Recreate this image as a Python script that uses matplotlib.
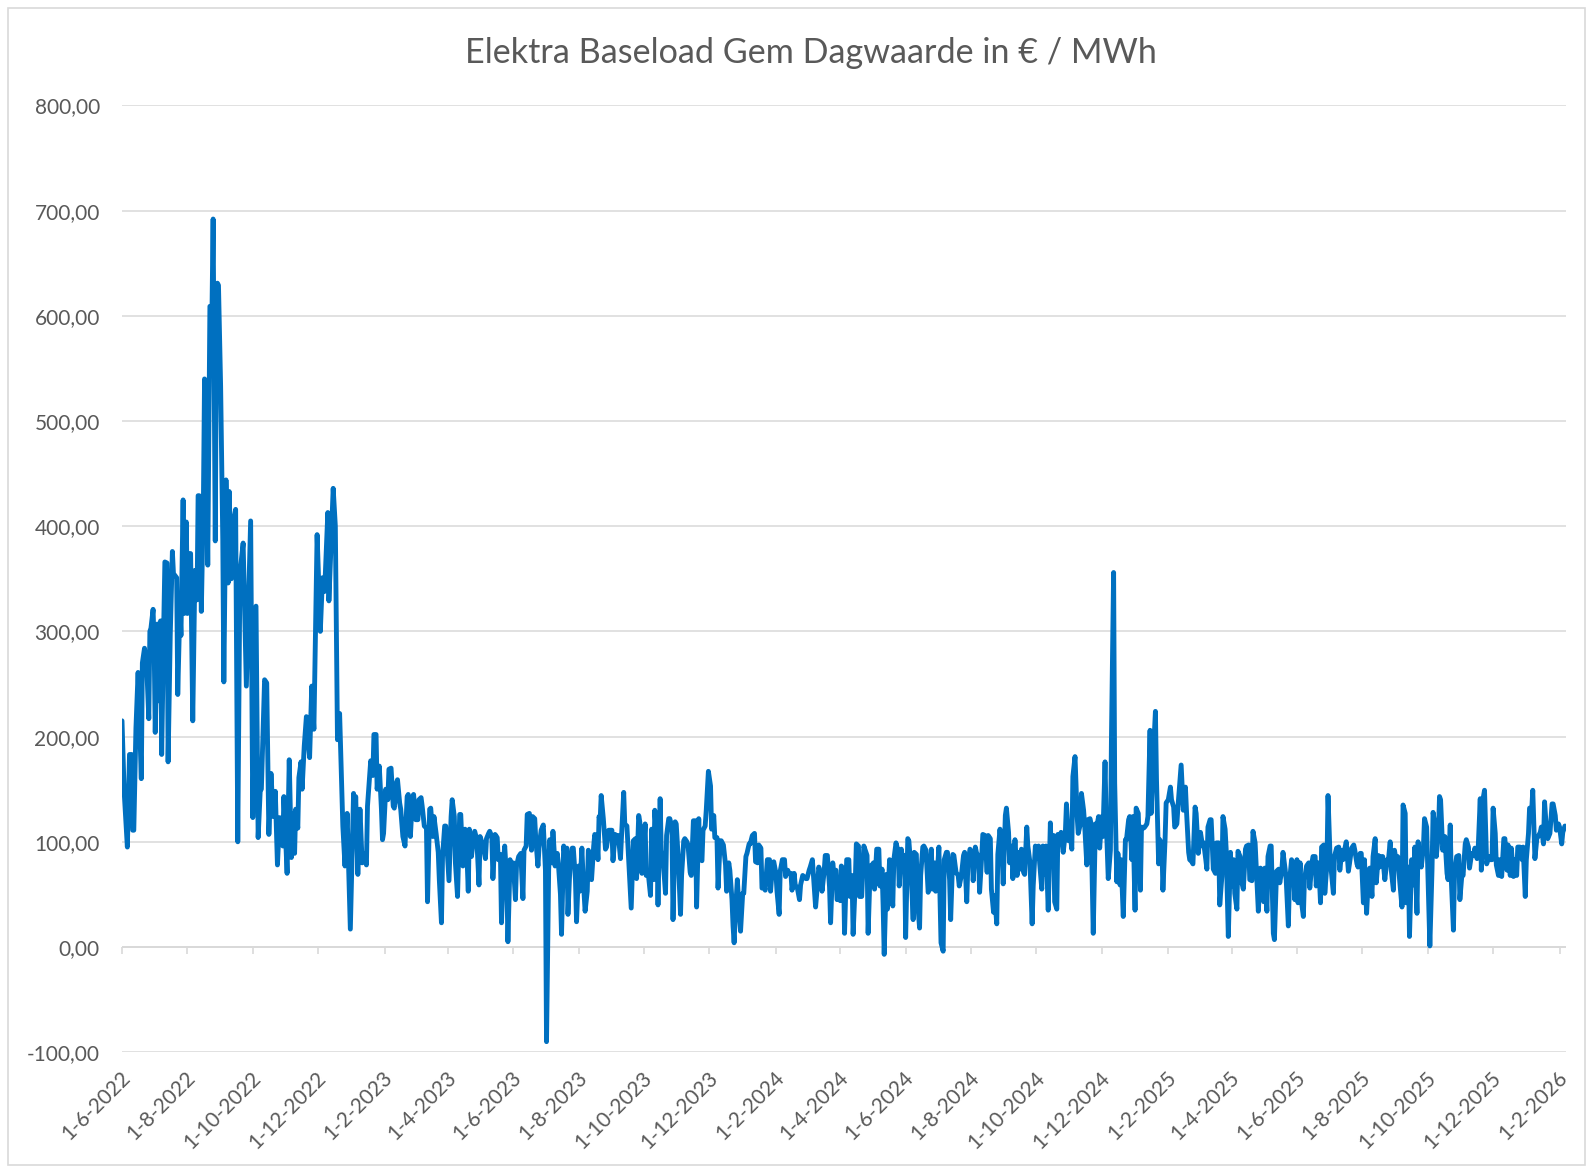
import matplotlib
matplotlib.use('Agg')
import matplotlib.pyplot as plt
import matplotlib.dates as mdates
import pandas as pd
from matplotlib.transforms import ScaledTranslation
from matplotlib.patches import Rectangle

# ---------------- data ----------------
start_date = '2022-06-01'
end_date = '2026-02-07'
title_text = 'Elektra Baseload Gem Dagwaarde in € / MWh'

day_offsets = [
    0, 2, 5, 7, 9, 10, 11, 13, 15, 18, 19, 21, 23, 25, 26, 27, 29, 30, 31, 33, 34, 36, 37, 39, 40, 42, 43, 45, 47, 48,
    51, 52, 54, 55, 57, 58, 60, 61, 63, 64, 66, 68, 70, 71, 72, 74, 76, 77, 79, 80, 82, 84, 85, 87, 88, 89, 90, 92, 94, 95,
    97, 99, 100, 102, 104, 106, 108,
    110, 113, 116, 120, 122, 125, 127, 129, 130, 133, 135, 137, 139, 141, 143, 145, 147, 150, 151, 154, 156, 158, 159, 161,
    162, 164, 165, 167, 168, 170, 172, 175, 177, 179, 182, 185, 187, 189, 192, 193, 196, 197, 199, 201, 203, 206, 208, 210,
    213, 216, 217,
    218, 220, 222, 224, 226, 228, 229, 232, 234, 235, 237, 238, 240, 242, 243, 244, 246, 248, 249, 251, 253, 254, 256, 257,
    259, 260, 262, 264, 266, 267, 269, 271, 272, 274, 276, 277, 279, 280, 282, 284, 285, 287, 288, 290, 291, 293, 295, 296,
    298, 299, 301, 302, 304, 305, 307, 308, 310, 311, 313, 315, 316, 318, 320, 321, 323, 324, 326, 328, 329, 331, 333,
    334, 337, 339, 340, 342, 343, 345, 346, 348, 350, 351, 353, 354, 356, 357, 359, 360, 362, 364, 365, 367, 368, 370, 372,
    374, 375, 377, 378, 380, 382, 383, 385, 386, 388, 389, 391, 393, 395, 396, 398, 399, 401, 402, 404, 406, 407, 409, 410,
    412, 413, 415, 416, 418, 420, 421, 423, 424, 426, 427, 429, 430, 432, 434, 435, 437, 438, 440, 441, 443, 444, 445,
    446, 447, 449, 451, 452, 454, 455, 457, 458, 460, 461, 463, 465, 466, 468, 469, 471, 472, 474, 475, 477, 479, 480, 482,
    483, 485, 486, 488, 489, 491, 493, 494, 496, 497, 499, 500, 502, 503, 505, 507, 508, 510, 511, 513, 514, 516, 517, 519,
    521, 522, 524, 525, 527, 528, 530, 531, 533, 535, 536, 538, 539, 541, 542, 544, 545, 547, 549, 550, 552, 553, 555, 556,
    558, 559, 561, 563, 564, 566, 567, 569, 570, 571, 572, 574, 576, 577, 579, 580, 582, 583, 585, 586, 588, 590, 591, 593,
    594, 596, 597, 599, 600, 602, 604, 605, 607, 608, 610, 611, 613, 614, 616, 618, 619, 621, 622, 624, 625, 627, 628, 630,
    632, 633, 635, 636, 638, 639, 641, 642, 644, 646, 647, 649, 650, 652, 653, 655, 656, 658, 660, 661, 663, 664, 666, 667,
    669,
    670, 671, 673, 674, 676, 678, 679, 681, 682, 684, 685, 687, 688, 690, 692, 693, 695, 696, 698, 699, 701, 702, 704, 706,
    707, 709, 710, 711, 713, 714, 716, 717, 719, 720, 722, 724, 725, 727, 728, 730, 731, 733, 734, 736, 738, 739, 741, 742,
    744, 745, 747, 748, 750, 752, 753, 755, 756, 758, 759, 761, 762, 764, 766, 767, 769, 770, 772, 773, 775, 776, 778, 780,
    781,
    783, 785, 786, 788, 789, 791, 793, 794, 796, 797, 799, 800, 802, 803, 805, 807, 808, 810, 811, 813, 814, 816, 817, 819,
    821, 822, 824, 825, 827, 828, 830, 831, 833, 835, 836, 838, 839, 841, 842, 844, 845, 847, 849, 850, 852, 853, 855, 856,
    858, 859, 861, 862, 864, 866, 867, 869, 870, 872, 873, 875, 876, 878, 880, 881, 883, 884, 886, 887, 889,
    891, 892, 894, 895, 897, 898, 900, 901, 903, 904, 906, 908, 909, 911, 912, 914, 915, 917, 918, 920, 922, 923, 925, 926,
    928, 929, 931, 932, 934, 936, 937, 939, 940, 942, 943, 945, 946, 948, 950, 951, 953, 954, 956, 957, 959, 960, 962, 964,
    965, 967, 968, 970, 971, 973, 974, 976, 978, 979, 981, 982, 984, 985, 987, 988, 990, 992, 993, 995, 996, 998, 999, 1001,
    1002, 1004,
    1006, 1008, 1009, 1011, 1012, 1013, 1015, 1016, 1018, 1020, 1021, 1023, 1024, 1026, 1027, 1029, 1030, 1032, 1034, 1035,
    1037, 1038, 1040, 1041, 1043, 1044, 1046, 1048, 1049, 1051, 1052, 1054, 1055, 1057, 1058, 1060, 1062, 1063, 1065, 1066,
    1068, 1069, 1071, 1072, 1074, 1075, 1077, 1079, 1080, 1082, 1083, 1085, 1086, 1088, 1089, 1091, 1093, 1094, 1096, 1097,
    1099, 1100, 1102, 1103, 1105, 1107, 1108, 1110, 1111, 1113, 1114, 1116, 1117,
    1118, 1119, 1121, 1122, 1124, 1125, 1127, 1128, 1130, 1131, 1133, 1135, 1136, 1138, 1139, 1141, 1142, 1144, 1145, 1147,
    1149, 1150, 1152, 1153, 1155, 1156, 1158, 1159, 1161, 1163, 1164, 1166, 1167, 1169, 1170, 1172, 1173, 1175, 1176, 1178,
    1180, 1181, 1183, 1184, 1186, 1187, 1189, 1190, 1192, 1194, 1195, 1197, 1198, 1200, 1201, 1203, 1205, 1206, 1208, 1209,
    1211, 1212, 1214, 1215, 1217, 1218, 1220, 1222, 1223, 1225, 1226, 1228, 1229,
    1230, 1232, 1234, 1236, 1237, 1239, 1240, 1242, 1243, 1245, 1247, 1248, 1250, 1251, 1253, 1254, 1256, 1257, 1259, 1261,
    1262, 1264, 1265, 1267, 1268, 1270, 1271, 1273, 1275, 1276, 1278, 1279, 1281, 1282, 1284, 1285, 1287, 1289, 1290, 1292,
    1293, 1295, 1296, 1298, 1299, 1301, 1302, 1304, 1306, 1307, 1309, 1310, 1312, 1313, 1315, 1316, 1318, 1320, 1321, 1323,
    1324, 1326, 1327, 1329, 1330, 1332, 1334, 1335, 1337, 1338, 1340, 1341, 1343, 1344, 1346,
]

prices = [
    215, 148, 95, 183, 183, 111, 111, 208, 261, 160, 270, 284, 268, 217, 300, 303, 321, 286, 204, 307, 234, 310, 183, 310, 366, 365, 176, 296, 376, 355,
    351, 240, 323, 296, 425, 317, 404, 317, 374, 374, 215, 358, 330, 429, 429, 319, 430, 540, 452, 363, 609, 609, 692, 386, 578, 631, 629, 533, 388, 252,
    444, 346, 433, 350, 405, 416, 100,
    355, 384, 248, 405, 123, 324, 104, 150, 150, 254, 251, 107, 165, 124, 148, 78, 123, 96, 143, 70, 178, 85, 127, 89,
    131, 113, 161, 176, 150, 191, 219, 180, 248, 207, 392, 300, 351, 338, 413, 329, 408, 436, 400, 197, 222, 115, 77, 127,
    17, 146, 99,
    143, 69, 131, 80, 89, 78, 134, 177, 163, 202, 202, 150, 172, 131, 102, 108, 150, 140, 169, 170, 134, 132, 156, 159,
    137, 131, 105, 96, 143, 145, 105, 143, 145, 121, 121, 140, 142, 134, 115, 113, 43, 131, 132, 105, 124, 108, 90, 64,
    23, 86, 115, 115, 80, 63, 124, 140, 124, 80, 48, 126, 126, 77, 112, 108, 53, 112, 86, 105, 110, 102, 59,
    105, 96, 84, 103, 108, 110, 105, 65, 107, 104, 83, 88, 23, 83, 96, 61, 5, 83, 69, 80, 45, 77, 86, 89,
    46, 92, 96, 126, 127, 92, 124, 122, 102, 77, 94, 111, 116, 73, -90, 73, 102, 80, 110, 77, 89, 80, 50, 12,
    96, 89, 94, 31, 80, 94, 94, 64, 24, 77, 53, 94, 69, 34, 53, 92, 86, 64, 96, 107, 100, 83, 124,
    120, 144, 122, 93, 95, 111, 111, 111, 82, 107, 106, 106, 84, 106, 147, 117, 115, 95, 56, 37, 101, 103, 65, 125,
    119, 70, 82, 117, 68, 69, 49, 112, 64, 130, 98, 40, 141, 92, 79, 51, 106, 122, 122, 114, 26, 119, 117, 82,
    31, 68, 101, 103, 100, 97, 71, 68, 120, 120, 38, 122, 86, 82, 111, 115, 130, 167, 153, 112, 125, 104, 104, 56,
    101, 101, 97, 78, 53, 80, 73, 45, 20, 4, 29, 64, 29, 15, 51, 51, 86, 89, 98, 98, 106, 108, 81, 80,
    97, 94, 56, 57, 54, 83, 83, 53, 80, 81, 70, 53, 31, 72, 83, 83, 67, 73, 70, 70, 54, 70, 59, 56,
    45, 59, 68, 67, 65, 65, 73, 76, 83, 53, 38, 62, 76, 68, 53, 72, 87, 87, 57, 23, 80, 70, 73, 45,
    48,
    44, 77, 74, 13, 83, 83, 48, 68, 12, 61, 98, 96, 48, 48, 96, 93, 87, 13, 77, 77, 80, 55, 93, 93,
    58, 74, 39, -7, 69, 36, 83, 72, 39, 83, 99, 91, 58, 93, 83, 87, 9, 103, 101, 74, 26, 90, 88, 45,
    18, 68, 95, 96, 92, 52, 55, 93, 55, 80, 53, 77, 95, 4, -4, 83, 90, 90, 64, 26, 88, 87, 71, 68,
    58,
    68, 87, 90, 43, 77, 93, 90, 63, 95, 90, 85, 52, 87, 107, 106, 71, 106, 103, 55, 33, 49, 22, 88, 112,
    88, 60, 125, 132, 109, 80, 96, 65, 102, 68, 90, 74, 93, 71, 69, 114, 96, 80, 22, 58, 96, 84, 96, 80,
    55, 96, 69, 96, 35, 118, 84, 106, 43, 36, 107, 103, 109, 90, 109, 136, 101, 112, 93, 162, 181,
    124, 108, 117, 146, 130, 116, 78, 121, 122, 117, 13, 117, 113, 124, 94, 124, 105, 176, 124, 65, 92, 200, 356, 156,
    62, 89, 59, 83, 29, 102, 102, 121, 124, 83, 124, 35, 132, 127, 54, 114, 113, 114, 117, 124, 206, 127, 181, 224,
    159, 79, 102, 98, 54, 102, 137, 140, 152, 140, 133, 114, 117, 133, 159, 173, 130, 152, 129, 90, 83, 81, 79, 133,
    127, 89,
    109, 96, 99, 83, 74, 114, 121, 121, 74, 70, 99, 99, 40, 67, 124, 112, 93, 10, 90, 58,
    83, 51, 36, 91, 86, 64, 55, 93, 96, 97, 64, 63, 110, 99, 77, 34, 75, 70, 43, 75,
    34, 86, 96, 96, 13, 7, 72, 74, 61, 74, 90, 74, 64, 20, 61, 83, 67, 45, 83, 42,
    80, 45, 29, 64, 77, 80, 56, 80, 86, 86, 58, 80, 64,
    42, 95, 97, 51, 79, 144, 83, 73, 51, 86, 94, 95, 73, 92, 83, 95, 100, 72, 79, 94,
    97, 92, 79, 76, 89, 89, 42, 83, 32, 73, 75, 48, 86, 103, 61, 87, 76, 86, 86, 64,
    83, 79, 100, 73, 54, 92, 79, 86, 61, 38, 135, 127, 42, 76, 10, 83, 59, 95, 32, 100,
    83, 76, 95, 122, 114, 76, 1, 73, 128, 114, 86, 108, 143,
    140, 92, 105, 70, 64, 116, 64, 16, 70, 86, 87, 45, 70, 68, 98, 102, 95, 75, 89, 87,
    94, 84, 92, 141, 73, 143, 149, 79, 86, 83, 83, 132, 108, 78, 68, 83, 67, 103, 103, 73,
    97, 68, 94, 67, 83, 68, 95, 95, 83, 95, 48, 83, 108, 132, 130, 149, 84, 105, 105, 109,
    114, 98, 138, 108, 103, 108, 136, 136, 125, 111, 117, 114, 98, 109, 115,
]

y_tick_values = [-100, 0, 100, 200, 300, 400, 500, 600, 700, 800]
x_tick_dates = pd.date_range('2022-06-01', '2026-02-01', freq='2MS')

# ---------------- style ----------------
line_color = '#0070C0'
text_color = '#595959'
grid_color = '#D9D9D9'
font_list = ['Lato', 'DejaVu Sans']
plt.rcParams['font.family'] = font_list

W, H = 1593, 1173
fig = plt.figure(figsize=(W / 100, H / 100), dpi=100)
fig.patch.set_facecolor('white')

ax_left, ax_right, ax_top, ax_bottom = 122, 1566, 105.4, 1052.2
ax = fig.add_axes([ax_left / W, 1 - ax_bottom / H, (ax_right - ax_left) / W, (ax_bottom - ax_top) / H])

dates = pd.Timestamp(start_date) + pd.to_timedelta(day_offsets, unit='D')
x_num = mdates.date2num(dates.to_pydatetime())
ax.plot(x_num, prices, color=line_color, lw=3.5, solid_joinstyle='round', solid_capstyle='round', zorder=3)

ymin, ymax = y_tick_values[0], y_tick_values[-1]
ax.set_ylim(ymin, ymax)
ax.set_xlim(mdates.date2num(pd.Timestamp(start_date)), mdates.date2num(pd.Timestamp(end_date)))

ax.set_yticks(y_tick_values)
ax.set_yticklabels([f'{v:.2f}'.replace('.', ',') for v in y_tick_values])
ax.yaxis.grid(True, color=grid_color, lw=1.1)
ax.set_axisbelow(True)
for s in ax.spines.values():
    s.set_visible(False)

tick_nums = mdates.date2num(x_tick_dates.to_pydatetime())
ax.set_xticks(tick_nums)
ax.set_xticklabels([f'{d.day}-{d.month}-{d.year}' for d in x_tick_dates],
                   rotation=45, ha='right', va='top', rotation_mode='anchor')
ax.tick_params(axis='both', length=0, colors=text_color, labelsize=15)
ax.tick_params(axis='y', pad=16)
ax.tick_params(axis='x', pad=11)
offset = ScaledTranslation(-2 / 100, 0, fig.dpi_scale_trans)
for lab in ax.get_xticklabels():
    lab.set_transform(lab.get_transform() + offset)

# horizontal axis line crossing at zero, with tick marks
ax.axhline(0, color=grid_color, lw=1.3, zorder=1)
zero_frac = (0 - ymin) / (ymax - ymin)
sec = ax.secondary_xaxis(zero_frac)
sec.set_xticks(tick_nums)
sec.tick_params(axis='x', direction='out', length=5, width=1.2, color=grid_color, labelbottom=False, labeltop=False)
for s in sec.spines.values():
    s.set_visible(False)

fig.text(798 * 1593 / 1568 / W, 1 - 53 / H, title_text, ha='center', va='center', fontsize=24.6, color=text_color)

fig.patches.append(Rectangle((8 / W, 8 / H), 1 - 16 / W, 1 - 16 / H, transform=fig.transFigure,
                             fill=False, edgecolor=grid_color, lw=1.2))

fig.savefig('out.png', dpi=100)
